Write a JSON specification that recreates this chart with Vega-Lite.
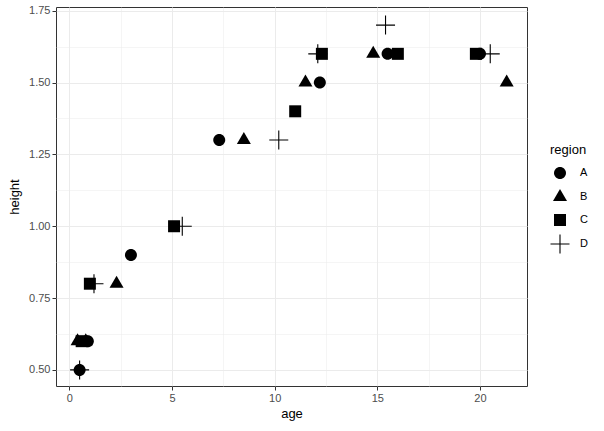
{
  "$schema": "https://vega.github.io/schema/vega-lite/v6.json",
  "width": 471,
  "height": 379,
  "autosize": "none",
  "padding": {"left": 56, "top": 7, "right": 77, "bottom": 45},
  "background": "white",
  "config": {
    "font": "Liberation Sans",
    "view": {"stroke": "#333333", "strokeWidth": 1},
    "axis": {
      "domain": false,
      "gridColor": "#EBEBEB",
      "tickColor": "#333333",
      "tickSize": 4,
      "labelColor": "#4D4D4D",
      "labelFontSize": 11,
      "labelPadding": 2,
      "titleFontSize": 13,
      "titleFontWeight": "normal",
      "titleColor": "black"
    },
    "legend": {
      "orient": "none",
      "legendX": 494,
      "legendY": 137,
      "titleFontSize": 13,
      "titleFontWeight": "normal",
      "titleColor": "black",
      "labelFontSize": 11,
      "labelColor": "black",
      "labelOffset": 10,
      "rowPadding": 8,
      "titlePadding": 6,
      "symbolSize": 400,
      "symbolFillColor": "black",
      "symbolStrokeWidth": 0,
      "symbolOpacity": 1
    }
  },
  "data": {
    "values": [
      {"region": "A", "age": 0.5, "height": 0.5},
      {"region": "A", "age": 0.9, "height": 0.6},
      {"region": "A", "age": 3.0, "height": 0.9},
      {"region": "A", "age": 7.3, "height": 1.3},
      {"region": "A", "age": 12.2, "height": 1.5},
      {"region": "A", "age": 15.5, "height": 1.6},
      {"region": "A", "age": 20.0, "height": 1.6},
      {"region": "B", "age": 0.4, "height": 0.6},
      {"region": "B", "age": 0.8, "height": 0.6},
      {"region": "B", "age": 2.3, "height": 0.8},
      {"region": "B", "age": 8.5, "height": 1.3},
      {"region": "B", "age": 11.5, "height": 1.5},
      {"region": "B", "age": 14.8, "height": 1.6},
      {"region": "B", "age": 21.3, "height": 1.5},
      {"region": "C", "age": 0.6, "height": 0.6},
      {"region": "C", "age": 1.0, "height": 0.8},
      {"region": "C", "age": 5.1, "height": 1.0},
      {"region": "C", "age": 11.0, "height": 1.4},
      {"region": "C", "age": 12.3, "height": 1.6},
      {"region": "C", "age": 16.0, "height": 1.6},
      {"region": "C", "age": 19.8, "height": 1.6},
      {"region": "D", "age": 0.5, "height": 0.5},
      {"region": "D", "age": 1.2, "height": 0.8},
      {"region": "D", "age": 5.5, "height": 1.0},
      {"region": "D", "age": 10.2, "height": 1.3},
      {"region": "D", "age": 12.1, "height": 1.6},
      {"region": "D", "age": 15.4, "height": 1.7},
      {"region": "D", "age": 20.5, "height": 1.6}
    ]
  },
  "mark": {
    "type": "point",
    "filled": true,
    "fill": "black",
    "strokeWidth": 0,
    "opacity": 1,
    "size": 400
  },
  "encoding": {
    "x": {
      "field": "age",
      "type": "quantitative",
      "title": "age",
      "scale": {"domain": [-0.65, 22.29], "nice": false, "zero": false},
      "axis": {
        "values": [0, 2.5, 5, 7.5, 10, 12.5, 15, 17.5, 20],
        "labelExpr": "datum.value % 5 === 0 ? datum.label : ''",
        "gridWidth": {"condition": {"test": "datum.value % 5 !== 0", "value": 0.5}, "value": 1},
        "tickOpacity": {"condition": {"test": "datum.value % 5 !== 0", "value": 0}, "value": 1},
        "titlePadding": 4
      }
    },
    "y": {
      "field": "height",
      "type": "quantitative",
      "title": "height",
      "scale": {"domain": [0.444, 1.763], "nice": false, "zero": false},
      "axis": {
        "values": [0.5, 0.625, 0.75, 0.875, 1, 1.125, 1.25, 1.375, 1.5, 1.625, 1.75],
        "labelExpr": "(datum.value * 4) % 1 === 0 ? format(datum.value, '.2f') : ''",
        "gridWidth": {"condition": {"test": "(datum.value * 4) % 1 !== 0", "value": 0.5}, "value": 1},
        "tickOpacity": {"condition": {"test": "(datum.value * 4) % 1 !== 0", "value": 0}, "value": 1},
        "titlePadding": 7
      }
    },
    "shape": {
      "field": "region",
      "type": "nominal",
      "title": "region",
      "scale": {
        "domain": ["A", "B", "C", "D"],
        "range": [
          "M0.6,0A0.6,0.6,0,1,1,-0.6,0A0.6,0.6,0,1,1,0.6,0Z",
          "M0,-0.8L0.7,0.4L-0.7,0.4Z",
          "M-0.6,-0.6L0.6,-0.6L0.6,0.6L-0.6,0.6Z",
          "M-0.95,-0.055L-0.055,-0.055L-0.055,-0.95L0.055,-0.95L0.055,-0.055L0.95,-0.055L0.95,0.055L0.055,0.055L0.055,0.95L-0.055,0.95L-0.055,0.055L-0.95,0.055Z"
        ]
      }
    }
  }
}
